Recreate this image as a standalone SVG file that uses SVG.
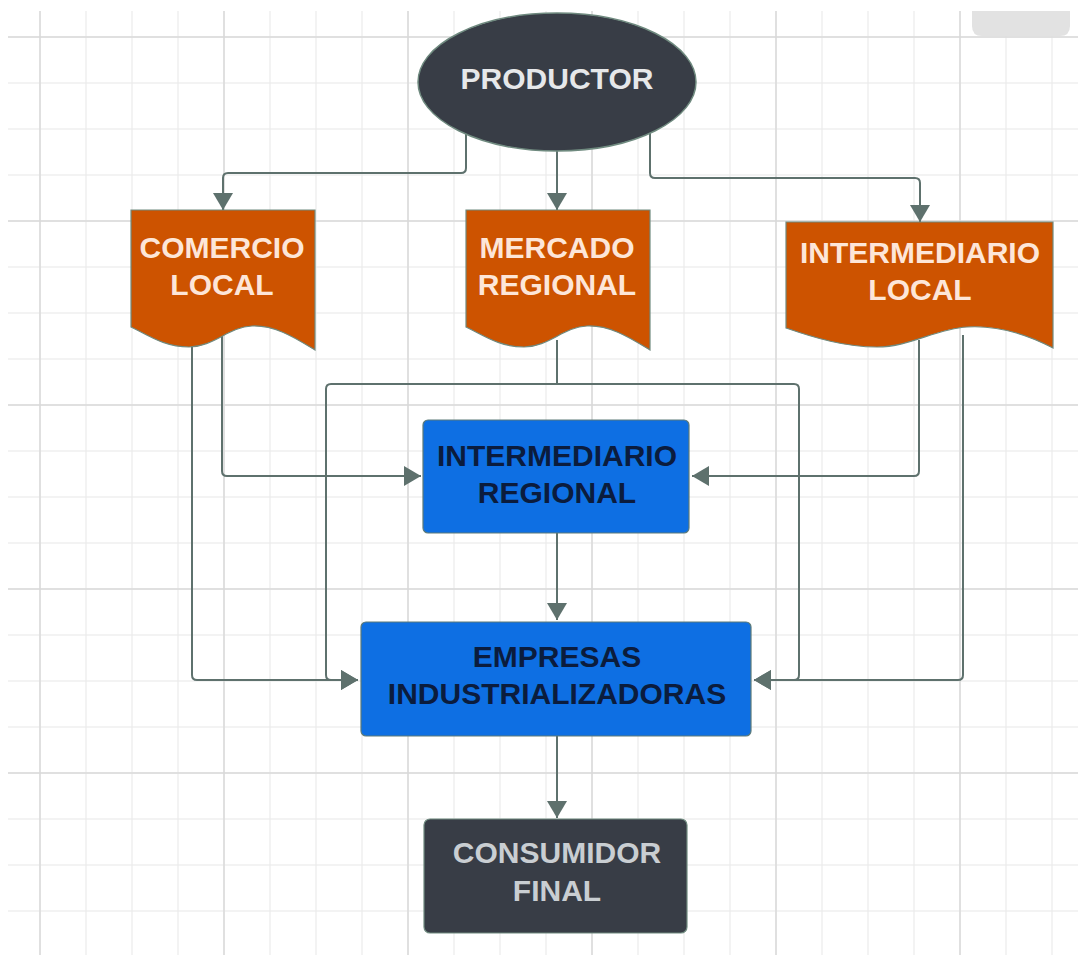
<svg xmlns="http://www.w3.org/2000/svg" width="1078" height="955" viewBox="0 0 1078 955">
<style>
.lbl{font-family:"Liberation Sans",Arial,sans-serif;font-weight:bold;font-size:30px;text-anchor:middle}
.conn{fill:none;stroke:#5e716d;stroke-width:2}
.doc{fill:#cd5300;stroke:#6f8a7f;stroke-width:1.2}
.blue{fill:#0e6fe3;stroke:#5c7a78;stroke-width:1.2}
.dark{fill:#383d46;stroke:#6f8a7f;stroke-width:1.2}
</style>
<defs>
<pattern id="gl" patternUnits="userSpaceOnUse" x="17" y="14" width="46" height="46">
<rect x="22.4" y="0" width="1.2" height="46" fill="#ebebeb"/>
<rect x="0" y="22.4" width="46" height="1.2" fill="#ebebeb"/>
</pattern>
<pattern id="gd" patternUnits="userSpaceOnUse" x="-52" y="-55" width="184" height="184">
<rect x="91.3" y="0" width="1.4" height="184" fill="#d8d8d8"/>
<rect x="0" y="91.3" width="184" height="1.4" fill="#d8d8d8"/>
</pattern>
<marker id="ah" markerUnits="userSpaceOnUse" markerWidth="20" markerHeight="22" refX="17" refY="10" orient="auto">
<path d="M0,0 L17,10 L0,20 Z" fill="#5e716d"/>
</marker>
</defs>
<rect width="1078" height="955" fill="#ffffff"/>
<rect x="8" y="11" width="1070" height="944" fill="url(#gl)"/>
<rect x="8" y="11" width="1070" height="944" fill="url(#gd)"/>
<path d="M972,11 H1070 V26 Q1070,36 1060,36 H982 Q972,36 972,26 Z" fill="#e2e2e2"/>
<g id="connectors">
<path class="conn" marker-end="url(#ah)" d="M466,134 V168 Q466,173 461,173 H228 Q223,173 223,178 V210"/>
<path class="conn" marker-end="url(#ah)" d="M557,151 V210"/>
<path class="conn" marker-end="url(#ah)" d="M650,133 V173 Q650,178 655,178 H915 Q920,178 920,183 V222"/>
<path class="conn" marker-end="url(#ah)" d="M222,335 V471 Q222,476 227,476 H421"/>
<path class="conn" marker-end="url(#ah)" d="M192,340 V675 Q192,680 197,680 H358"/>
<path class="conn" d="M557,340 V384"/>
<path class="conn" marker-end="url(#ah)" d="M557,384 H331 Q326,384 326,389 V675 Q326,680 331,680 H358"/>
<path class="conn" marker-end="url(#ah)" d="M557,384 H794 Q799,384 799,389 V675 Q799,680 794,680 H754"/>
<path class="conn" marker-end="url(#ah)" d="M919,340 V471 Q919,476 914,476 H692"/>
<path class="conn" marker-end="url(#ah)" d="M963,335 V675 Q963,680 958,680 H754"/>
<path class="conn" marker-end="url(#ah)" d="M557,533 V620"/>
<path class="conn" marker-end="url(#ah)" d="M557,736 V818"/>
</g>
<g id="productor">
<ellipse cx="557" cy="82" rx="139" ry="69" fill="#383d46" stroke="#6f8a7f" stroke-width="1.5"/>
<text class="lbl" x="557" y="89" fill="#e6e8ea" font-size="29">PRODUCTOR</text>
</g>
<g id="comercio-local">
<path class="doc" d="M131,210 H315 V350 C295,338 275,325 252,326 C228,327 214,347 189,347 C164,347 148,335 131,327 Z"/>
<text class="lbl" x="222" y="258" fill="#fde6d8">COMERCIO</text>
<text class="lbl" x="222" y="295" fill="#fde6d8">LOCAL</text>
</g>
<g id="mercado-regional">
<path class="doc" d="M466,210 H650 V350 C630,338 610,325 587,326 C563,327 549,347 524,347 C499,347 483,335 466,327 Z"/>
<text class="lbl" x="557" y="258" fill="#fde6d8">MERCADO</text>
<text class="lbl" x="557" y="295" fill="#fde6d8">REGIONAL</text>
</g>
<g id="intermediario-local">
<path class="doc" d="M786,222 H1053 V348 C1030,336 1000,325 967,327 C935,329 910,347 877,347 C845,347 815,338 786,328 Z"/>
<text class="lbl" x="920" y="263" fill="#fde6d8">INTERMEDIARIO</text>
<text class="lbl" x="920" y="300" fill="#fde6d8">LOCAL</text>
</g>
<g id="intermediario-regional">
<rect class="blue" x="423" y="420" width="266" height="113" rx="5"/>
<text class="lbl" x="557" y="466" fill="#0b1c3d">INTERMEDIARIO</text>
<text class="lbl" x="557" y="503" fill="#0b1c3d">REGIONAL</text>
</g>
<g id="empresas">
<rect class="blue" x="361" y="622" width="390" height="114" rx="5"/>
<text class="lbl" x="557" y="667" fill="#0b1c3d">EMPRESAS</text>
<text class="lbl" x="557" y="704" fill="#0b1c3d">INDUSTRIALIZADORAS</text>
</g>
<g id="consumidor-final">
<rect class="dark" x="424" y="819" width="263" height="114" rx="6"/>
<text class="lbl" x="557" y="863" fill="#c9ced2">CONSUMIDOR</text>
<text class="lbl" x="557" y="901" fill="#c9ced2">FINAL</text>
</g>
</svg>
